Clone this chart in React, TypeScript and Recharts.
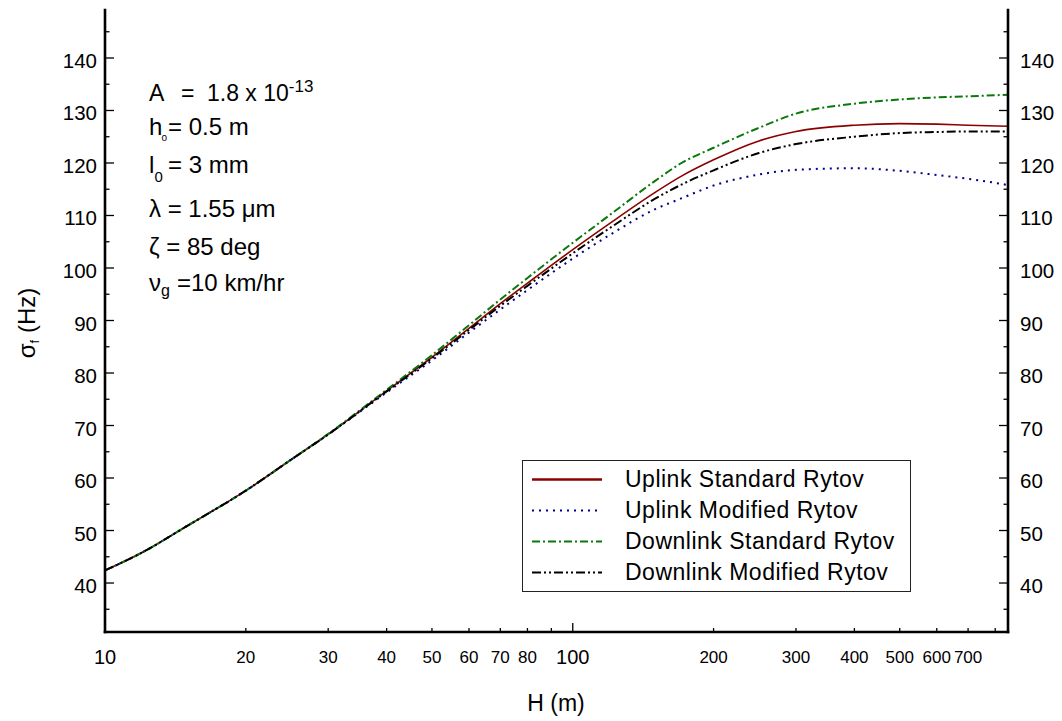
import React from 'react';
import { LineChart, Line, XAxis, YAxis, Legend, Customized } from 'recharts';

// ---------- data ----------
const H = [10, 12, 15, 20, 25, 30, 40, 50, 60, 70, 80, 100, 120, 150, 170, 200, 250, 300, 400, 500, 600, 700, 852];
const uplinkStandard = [42.4, 45.8, 50.9, 57.6, 63.5, 68.3, 76.6, 83.0, 88.5, 93.2, 97.1, 103.5, 108.5, 114.4, 117.4, 120.6, 124.2, 126.0, 127.2, 127.5, 127.4, 127.2, 127.0];
const uplinkModified = [42.4, 45.8, 50.9, 57.6, 63.5, 68.3, 76.3, 82.4, 87.7, 92.1, 95.8, 101.8, 106.3, 111.2, 113.2, 115.7, 117.8, 118.7, 119.0, 118.5, 117.7, 117.0, 115.8];
const downlinkStandard = [42.4, 45.8, 50.9, 57.6, 63.5, 68.4, 76.8, 83.4, 89.1, 94.0, 98.1, 104.8, 110.1, 116.6, 119.9, 122.9, 126.7, 129.4, 131.3, 132.1, 132.5, 132.7, 133.0];
const downlinkModified = [42.4, 45.8, 50.9, 57.6, 63.5, 68.3, 76.5, 82.8, 88.2, 92.8, 96.6, 102.8, 107.6, 113.2, 115.8, 118.6, 121.9, 123.6, 125.0, 125.7, 125.9, 126.0, 126.0];

const X_TICKS = [10, 20, 30, 40, 50, 60, 70, 80, 90, 100, 200, 300, 400, 500, 600, 700, 800];
const X_TICK_LABELS = [10, 20, 30, 40, 50, 60, 70, 80, 100, 200, 300, 400, 500, 600, 700];
const X_MAJOR = [10, 100];
const Y_TICKS = [35, 40, 45, 50, 55, 60, 65, 70, 75, 80, 85, 90, 95, 100, 105, 110, 115, 120, 125, 130, 135, 140, 145];
const Y_TICK_LABELS = [40, 50, 60, 70, 80, 90, 100, 110, 120, 130, 140];

const SERIES = [
  { key: 'upStd', name: 'Uplink Standard Rytov', color: '#8b0000', dash: undefined as string | undefined, width: 1.6, values: uplinkStandard },
  { key: 'upMod', name: 'Uplink Modified Rytov', color: '#00008b', dash: '2 5', width: 2, values: uplinkModified },
  { key: 'downStd', name: 'Downlink Standard Rytov', color: '#0a780a', dash: '8 3 2 3', width: 2, values: downlinkStandard },
  { key: 'downMod', name: 'Downlink Modified Rytov', color: '#000000', dash: '9 3 2 3 2 3', width: 2, values: downlinkModified },
];

const rows = H.map((h, i) => {
  const r: Record<string, number> = { H: h };
  SERIES.forEach((s) => {
    r[s.key] = s.values[i];
  });
  return r;
});

// ---------- layout ----------
const W = 1062;
const HT = 721;
const PLOT_LEFT = 105;
const PLOT_RIGHT = 1008;
const PLOT_TOP = 10;
const PLOT_BOTTOM = 632;
const FONT = "'Liberation Sans', Arial, Helvetica, sans-serif";

const XTick = (props: any) => {
  const { x, payload } = props;
  const v = payload.value;
  const major = X_MAJOR.includes(v);
  const len = major ? 9 : 4;
  return (
    <g>
      <line x1={x} x2={x} y1={PLOT_BOTTOM} y2={PLOT_BOTTOM - len} stroke="#000" strokeWidth={1.3} />
      {X_TICK_LABELS.includes(v) && (
        <text x={x} y={major ? 664 : 662.5} textAnchor="middle" fontSize={major ? 20 : 17} fontFamily={FONT} fill="#000">
          {v}
        </text>
      )}
    </g>
  );
};

const YTickLeft = (props: any) => {
  const { y, payload } = props;
  const v = payload.value;
  const major = Y_TICK_LABELS.includes(v);
  return (
    <g>
      <line x1={PLOT_LEFT} x2={PLOT_LEFT + (major ? 9 : 4.5)} y1={y} y2={y} stroke="#000" strokeWidth={1.3} />
      {major && (
        <text x={97} y={y + 10} textAnchor="end" fontSize={20.5} fontFamily={FONT} fill="#000">
          {v}
        </text>
      )}
    </g>
  );
};

const YTickRight = (props: any) => {
  const { y, payload } = props;
  const v = payload.value;
  const major = Y_TICK_LABELS.includes(v);
  return (
    <g>
      <line x1={PLOT_RIGHT} x2={PLOT_RIGHT - (major ? 9 : 4.5)} y1={y} y2={y} stroke="#000" strokeWidth={1.3} />
      {major && (
        <text x={1020} y={y + 10} textAnchor="start" fontSize={20.5} fontFamily={FONT} fill="#000">
          {v}
        </text>
      )}
    </g>
  );
};

const Texts = () => (
  <g fontFamily={FONT} fill="#000">
    <text y={100.7} fontSize={23}>
      <tspan x={149}>A</tspan>
      <tspan x={181}>=</tspan>
      <tspan x={207}>1.8 x 10</tspan>
      <tspan dy={-9} fontSize={17}>-13</tspan>
    </text>
    <text y={135} fontSize={24}>
      <tspan x={149}>h</tspan>
      <tspan x={161.5} dy={6} fontSize={10}>o</tspan>
      <tspan x={168} dy={-6}>= 0.5 m</tspan>
    </text>
    <text y={173} fontSize={24}>
      <tspan x={149}>l</tspan>
      <tspan x={154.5} dy={8.5} fontSize={15}>0</tspan>
      <tspan x={168} dy={-8.5}>= 3 mm</tspan>
    </text>
    <text x={149} y={216.7} fontSize={24}>λ = 1.55 μm</text>
    <text x={149} y={255} fontSize={24}>ζ = 85 deg</text>
    <text y={291} fontSize={24}>
      <tspan x={149}>ν</tspan>
      <tspan x={161} dy={5} fontSize={16}>g</tspan>
      <tspan x={177} dy={-5}>=10 km/hr</tspan>
    </text>
    <text x={556} y={711} fontSize={23} textAnchor="middle">H (m)</text>
    <text x={35} y={323} fontSize={24} textAnchor="middle" transform="rotate(-90 35 323)">
      σ<tspan dy={4} fontSize={13}>f</tspan>
      <tspan dy={-4}> (Hz)</tspan>
    </text>
  </g>
);

const LegendBox = (props: any) => {
  const payload: any[] = props.payload || [];
  const ordered = SERIES.filter((s) => payload.some((p: any) => p.value === s.name));
  const list = ordered.length ? ordered : SERIES;
  return (
    <div
      style={{
        width: 389,
        height: 132,
        boxSizing: 'border-box',
        border: '1.5px solid #222',
        background: '#fff',
        paddingTop: 3,
        fontFamily: FONT,
      }}
    >
      {list.map((s) => (
        <div key={s.key} style={{ height: 31, display: 'flex', alignItems: 'center' }}>
          <svg width={102} height={31} style={{ display: 'block' }}>
            <line x1={9} x2={79} y1={15.5} y2={15.5} stroke={s.color} strokeWidth={s.key === 'upStd' ? 2.6 : 2} strokeDasharray={s.dash} />
          </svg>
          <span style={{ fontSize: 23, color: '#000', letterSpacing: 0.5, whiteSpace: 'nowrap' }}>{s.name}</span>
        </div>
      ))}
    </div>
  );
};

export default function App() {
  return (
    <div style={{ position: 'absolute', left: 0, top: 0, background: '#fff' }}>
      <LineChart width={W} height={HT} data={rows} margin={{ top: PLOT_TOP, right: 0, bottom: 0, left: 0 }}>
        <XAxis
          dataKey="H"
          type="number"
          scale="log"
          domain={[10, 852]}
          allowDataOverflow
          ticks={X_TICKS}
          interval={0}
          height={HT - PLOT_BOTTOM}
          tick={<XTick />}
          tickLine={false}
          axisLine={{ stroke: '#000', strokeWidth: 2.6, strokeLinecap: 'square' }}
        />
        <XAxis
          xAxisId="top"
          dataKey="H"
          type="number"
          scale="log"
          domain={[10, 852]}
          allowDataOverflow
          orientation="top"
          height={0}
          tick={false}
          tickLine={false}
          axisLine={{ stroke: '#000', strokeWidth: 2.6, strokeLinecap: 'square' }}
        />
        <YAxis
          yAxisId="left"
          type="number"
          domain={[30.67, 149.14]}
          allowDataOverflow
          ticks={Y_TICKS}
          interval={0}
          width={PLOT_LEFT}
          tick={<YTickLeft />}
          tickLine={false}
          axisLine={{ stroke: '#000', strokeWidth: 2.6, strokeLinecap: 'square' }}
        />
        <YAxis
          yAxisId="right"
          orientation="right"
          type="number"
          domain={[30.67, 149.14]}
          allowDataOverflow
          ticks={Y_TICKS}
          interval={0}
          width={W - PLOT_RIGHT}
          tick={<YTickRight />}
          tickLine={false}
          axisLine={{ stroke: '#000', strokeWidth: 2.6, strokeLinecap: 'square' }}
        />
        {SERIES.map((s) => (
          <Line
            key={s.key}
            yAxisId="left"
            dataKey={s.key}
            name={s.name}
            type="monotone"
            stroke={s.color}
            strokeWidth={s.width}
            strokeDasharray={s.dash}
            dot={false}
            activeDot={false}
            isAnimationActive={false}
          />
        ))}
        <Legend
          layout="vertical"
          align="center"
          verticalAlign="middle"
          content={<LegendBox />}
          wrapperStyle={{ position: 'absolute', left: 522, top: 460, width: 389, height: 132 }}
        />
        <Customized component={Texts} />
      </LineChart>
    </div>
  );
}
